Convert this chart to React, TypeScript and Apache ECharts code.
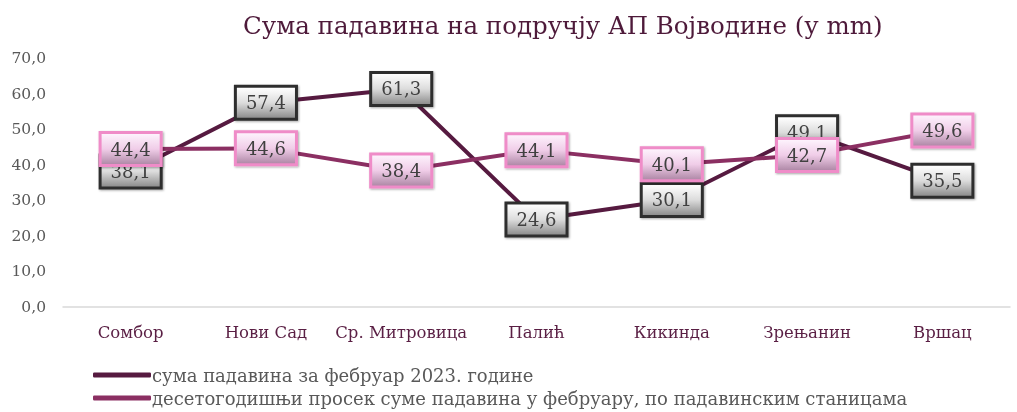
import React, { useEffect, useRef } from "react";
import * as echarts from "echarts";

const categories = ["Сомбор", "Нови Сад", "Ср. Митровица", "Палић", "Кикинда", "Зрењанин", "Вршац"];
const feb2023 = [38.1, 57.4, 61.3, 24.6, 30.1, 49.1, 35.5];
const tenYearAvg = [44.4, 44.6, 38.4, 44.1, 40.1, 42.7, 49.6];
const seriesNames = [
  "сума падавина за фебруар 2023. године",
  "десетогодишњи просек суме падавина у фебруару, по падавинским станицама",
];
const titleText = "Сума падавина на подручју АП Војводине (у mm)";

const FONT = "'DejaVu Serif', 'Liberation Serif', serif";
const fmt = (v: number) => v.toFixed(1).replace(".", ",");

export default function App() {
  const ref = useRef<HTMLDivElement>(null);
  useEffect(() => {
    if (!ref.current) return;
    const chart = echarts.init(ref.current, null, { renderer: "svg" });
    const grayBg = new echarts.graphic.LinearGradient(0, 0, 0, 1, [
      { offset: 0, color: "#ffffff" },
      { offset: 0.5, color: "#dcdcdc" },
      { offset: 1, color: "#8e8e8e" },
    ]);
    const pinkBg = new echarts.graphic.LinearGradient(0, 0, 0, 1, [
      { offset: 0, color: "#fdf2fc" },
      { offset: 0.5, color: "#f0cde8" },
      { offset: 1, color: "#b08aa8" },
    ]);
    const labelBase = {
      show: true,
      position: "inside",
      fontFamily: FONT,
      fontSize: 18,
      color: "#404040",
      padding: [6, 9, 4, 9],
      lineHeight: 20,
      borderWidth: 3,
      formatter: (p: any) => fmt(p.value),
    };
    const legendText = { fontFamily: FONT, fontSize: 18, color: "#595959", padding: [0, 0, 0, -4] };
    chart.setOption({
      animation: false,
      title: {
        text: titleText,
        left: 238,
        top: 8,
        textStyle: { fontFamily: FONT, fontSize: 24.5, fontWeight: "normal", color: "#4e1a3a" },
      },
      grid: { left: 63, right: 7, top: 58, bottom: 105 },
      legend: [
        {
          left: 88,
          top: 361,
          itemWidth: 58,
          itemHeight: 5,
          icon: "roundRect",
          textStyle: legendText,
          data: [seriesNames[0]],
        },
        {
          left: 88,
          top: 384,
          itemWidth: 58,
          itemHeight: 5,
          icon: "roundRect",
          textStyle: legendText,
          data: [seriesNames[1]],
        },
      ],
      xAxis: {
        type: "category",
        data: categories,
        axisLine: { lineStyle: { color: "#d9d9d9", width: 1.5 } },
        axisTick: { show: false },
        axisLabel: { fontFamily: FONT, fontSize: 16.5, color: "#5a1f44", margin: 17, interval: 0 },
      },
      yAxis: {
        type: "value",
        min: 0,
        max: 70,
        interval: 10,
        axisLine: { show: false },
        axisTick: { show: false },
        splitLine: { show: false },
        axisLabel: { fontFamily: FONT, fontSize: 15.5, color: "#595959", margin: 17, formatter: (v: number) => fmt(v) },
      },
      series: [
        {
          name: seriesNames[0],
          type: "line",
          data: feb2023,
          symbol: "rect",
          symbolSize: 1,
          lineStyle: { color: "#561a40", width: 4 },
          itemStyle: { color: "#561a40" },
          z: 2,
          label: {
            ...labelBase,
            backgroundColor: grayBg,
            borderColor: "#2e2e2e",
            shadowColor: "rgba(0,0,0,0.35)",
            shadowBlur: 2,
            shadowOffsetX: 1,
            shadowOffsetY: 1,
          },
        },
        {
          name: seriesNames[1],
          type: "line",
          data: tenYearAvg,
          symbol: "rect",
          symbolSize: 1,
          lineStyle: { color: "#8b2f62", width: 4 },
          itemStyle: { color: "#8b2f62" },
          z: 3,
          label: {
            ...labelBase,
            backgroundColor: pinkBg,
            borderColor: "#ef8cc8",
            shadowColor: "rgba(0,0,0,0.35)",
            shadowBlur: 2,
            shadowOffsetX: 1,
            shadowOffsetY: 1,
          },
        },
      ],
    });
    return () => chart.dispose();
  }, []);
  return <div ref={ref} style={{ position: "fixed", left: 0, top: 0, width: 1017, height: 412 }} />;
}
